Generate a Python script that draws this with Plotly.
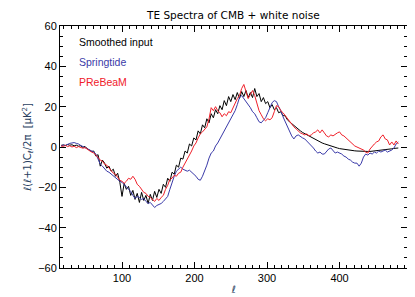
import plotly.graph_objects as go

# multipole values (shared by all three spectra)
ell = list(range(16, 482, 3))

smoothed_input = [
    0.8, 1.0, 0.7, 1.2, 0.9, 1.1, 0.6, 0.9, 0.4, 0.6,
    -0.2, 0.3, -0.8, -1.5, -2.2, -2.0, -4.5, -3.8, -9.5, -6.5,
    -8.0, -10.5, -9.5, -12.0, -11.0, -14.5, -13.0, -17.5, -24.5, -18.0,
    -21.0, -19.5, -24.0, -21.5, -26.0, -23.0, -27.5, -22.5, -26.5, -24.0,
    -28.0, -23.5, -26.5, -22.0, -25.0, -21.0, -23.0, -18.5, -20.0, -15.5,
    -17.0, -12.5, -13.5, -9.0, -10.0, -5.5, -6.0, -2.0, -3.0, 1.5,
    0.5, 4.5, 3.5, 8.0, 6.5, 11.0, 9.5, 14.0, 12.0, 16.5,
    14.5, 18.5, 16.5, 20.5, 18.5, 23.0, 20.5, 25.0, 22.5, 26.0,
    23.5, 27.0, 24.0, 27.5, 25.0, 28.0, 24.5, 27.0, 24.5, 29.0,
    25.0, 26.5, 22.5, 24.5, 21.5, 22.5, 19.5, 21.0, 18.5, 19.5,
    17.0, 17.5, 15.5, 15.5, 13.5, 12.5, 11.5, 10.5, 9.5, 8.8,
    8.0, 7.2, 6.6, 6.0, 5.3, 4.7, 4.1, 3.6, 3.0, 2.5,
    2.0, 1.6, 1.2, 0.8, 0.4, 0.1, -0.2, -0.5, -0.8, -1.0,
    -1.2, -1.4, -1.6, -1.7, -1.8, -1.9, -2.0, -2.1, -2.1, -2.2,
    -2.2, -2.2, -2.2, -2.1, -2.0, -1.9, -1.8, -1.6, -1.5, -1.3,
    -1.2, -1.0, -0.9, -0.7, -0.6, -0.5,
]

springtide = [
    0.5, 1.0, 0.8, 1.5, 1.8, 2.0, 2.2, 1.8, 1.5, 0.8,
    0.3, -0.5, -1.0, -1.5, -2.0, -2.5, -3.5, -6.0, -8.5, -9.5,
    -11.0, -12.0, -12.5, -13.5, -14.5, -15.0, -16.0, -17.0, -17.5, -18.5,
    -20.0, -21.0, -22.0, -24.0, -25.5, -24.5, -25.0, -26.0, -25.5, -27.0,
    -28.0, -27.5, -29.0, -30.0, -29.0, -28.5, -28.0, -27.0, -26.0, -24.5,
    -21.0, -17.5, -14.5, -12.0, -11.0, -10.0, -11.0, -11.5, -12.0, -11.5,
    -12.5, -13.0, -14.5, -16.0, -16.5, -14.5, -12.0, -9.0, -5.5, -3.0,
    -2.0, 0.5, 2.0, 4.0, 6.5, 8.5, 10.5, 12.0, 14.5, 16.0,
    18.0, 21.0, 24.5, 25.5, 24.0, 22.5, 21.5, 19.5, 17.5, 16.5,
    14.5, 12.5, 12.0, 13.0, 14.5, 17.0, 20.0, 22.0, 23.0, 22.5,
    20.0, 18.0, 15.0, 12.5, 10.0, 7.5, 5.5, 4.0, 5.5, 6.0,
    5.0, 4.5, 4.0, 3.0, 1.5, 0.5, -0.5, -2.0, -3.0, -2.5,
    -3.5, -3.5, -2.0, -1.0, -0.5, -2.0, -3.0, -2.5, -3.0, -3.5,
    -4.5, -5.0, -6.0, -6.5, -7.5, -8.0, -8.0, -9.5, -8.0, -5.0,
    -3.5, -4.0, -3.0, -3.5, -2.5, -3.0, -2.0, -2.5, -2.0, -1.5,
    -2.5, -2.0, -1.5, -0.5, 1.5, 2.5,
]

prebeam = [
    0.5, 0.3, 0.8, 0.2, 0.6, 0.0, 0.4, -0.3, 0.2, -0.2,
    -0.6, -0.3, -1.2, -1.8, -2.5, -3.0, -4.0, -5.5, -6.5, -7.0,
    -8.5, -9.0, -10.5, -11.5, -13.0, -13.5, -15.0, -16.5, -17.0, -18.0,
    -17.0, -15.5, -16.0, -14.5, -16.0, -18.5, -19.5, -21.0, -22.5, -23.0,
    -24.5, -25.0, -26.0, -27.0, -25.5, -26.5, -25.0, -24.0, -21.0, -19.0,
    -16.0, -15.5, -14.0, -14.5, -13.0, -12.5, -10.0, -8.0, -6.0, -4.5,
    -2.0, 0.5, 2.0, 4.5, 6.5, 7.5, 9.0, 10.0, 14.0, 19.5,
    18.0, 20.0, 18.0, 17.0, 15.0, 16.5, 15.5, 17.5, 17.0, 19.5,
    21.5, 24.0, 25.5, 29.0, 31.0, 27.5, 24.0, 26.0, 28.0, 25.5,
    21.0, 18.0, 16.0, 14.0, 13.0, 14.0, 13.5, 14.5, 17.5, 20.5,
    20.0, 18.0, 17.0, 15.5, 14.0, 12.5, 11.0, 10.0, 9.0, 8.0,
    7.0, 6.5, 6.0, 6.5, 5.5, 6.0, 7.0, 7.5, 8.5, 7.0,
    8.5, 7.0, 5.5, 5.0, 6.0, 5.5, 6.5, 7.0, 7.5, 6.0,
    5.5, 4.5, 3.5, 2.5, 1.5, 0.5, 0.0, -0.5, -1.0, -1.5,
    -2.5, -3.0, -1.0, 0.5, 1.5, 2.5, 3.0, 5.0, 6.0, 4.0,
    3.5, 1.0, 2.5, 1.0, 3.0, 1.5,
]

series_names = ["Smoothed input", "Springtide", "PReBeaM"]
series_colors = ["#000000", "#3a3aa8", "#f0202a"]
series_values = [smoothed_input, springtide, prebeam]

fig = go.Figure()
for name, color, vals in zip(series_names, series_colors, series_values):
    fig.add_trace(go.Scatter(x=ell, y=vals, mode="lines", name=name,
                             line=dict(color=color, width=1)))

# coloured legend text, no line samples (like the IDL plot)
for i, (name, color) in enumerate(zip(series_names, series_colors)):
    fig.add_annotation(x=0.049, y=0.935 - i * 0.084, xref="paper", yref="paper",
                       text=name, showarrow=False, xanchor="left", yanchor="middle",
                       font=dict(color=color, size=10.5, family="Liberation Sans"))

axis_common = dict(
    showline=True, linecolor="black", linewidth=1, mirror="ticks",
    ticks="inside", ticklen=6, tickcolor="black", showgrid=False, zeroline=False,
    tickfont=dict(family="Liberation Sans", size=11, color="black"),
)

fig.update_xaxes(range=[14.5, 493], tickvals=[100, 200, 300, 400],
                 minor=dict(dtick=10, tick0=0, ticks="inside", ticklen=3,
                            tickcolor="black", showgrid=False),
                 title=dict(text="ℓ", font=dict(family="DejaVu Sans", size=10),
                            standoff=2),
                 **axis_common)
fig.update_yaxes(range=[-60, 60], tickvals=[-60, -40, -20, 0, 20, 40, 60],
                 minor=dict(dtick=5, tick0=0, ticks="inside", ticklen=3,
                            tickcolor="black", showgrid=False),
                 title=dict(text="ℓ(ℓ+1)C<sub>ℓ</sub>/2π  [μK<sup>2</sup>]",
                            font=dict(family="DejaVu Sans", size=10), standoff=4),
                 **axis_common)

fig.update_layout(
    width=415, height=297,
    margin=dict(l=52, r=16, t=18, b=33),
    paper_bgcolor="white", plot_bgcolor="white",
    showlegend=False,
    title=dict(text="TE Spectra of CMB + white noise", x=0.543, xanchor="center",
               y=0.975, yanchor="middle",
               font=dict(family="DejaVu Sans", size=10.5, color="black")),
)

fig.write_html("out.html")
